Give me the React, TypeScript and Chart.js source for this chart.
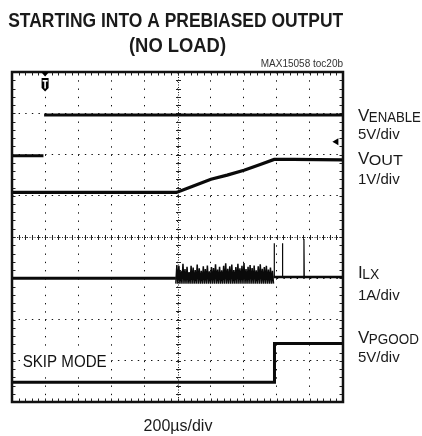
import React, { useEffect, useRef } from "react";
import { Chart, registerables } from "chart.js";

Chart.register(...registerables);

// ---------- text ----------
const titleLines = ["STARTING INTO A PREBIASED OUTPUT", "(NO LOAD)"];
const codeLabel = "MAX15058 toc20b";
const timeBaseLabel = "200µs/div";
const modeLabel = "SKIP MODE";
const channelMain = ["V", "V", "I", "V"];
const channelSub = ["ENABLE", "OUT", "LX", "PGOOD"];
const channelScale = ["5V/div", "1V/div", "1A/div", "5V/div"];

// ---------- screen grid (divisions) ----------
const xDivs = 10;
const yDivs = 8;
const triggerDiv = [1];

// ---------- traces (x in time divisions, y in screen divisions) ----------
const enableX = [0, 0.95, 0.96, 0.97, 10];
const enableY = [5.97, 5.97, null, 6.96, 6.96];

const voutX = [0, 4.97, 5.5, 6.01, 6.5, 7.01, 7.5, 7.92, 8.5, 10];
const voutY = [5.08, 5.08, 5.24, 5.4, 5.5, 5.62, 5.76, 5.88, 5.88, 5.87];

const ilxPreX = [0, 4.95];
const ilxPreY = [3.0, 3.0];
const ilxBurstStart = 4.95;
const ilxBurstEnd = 7.9;
const ilxBurstTops = [
  3.32, 3.3, 3.18, 3.35, 3.22, 3.28, 3.15, 3.3, 3.26, 3.2, 3.33, 3.24,
  3.18, 3.29, 3.22, 3.31, 3.17, 3.27, 3.25, 3.34, 3.21, 3.28, 3.19, 3.3,
  3.36, 3.23, 3.29, 3.33, 3.2, 3.27, 3.35, 3.24, 3.3, 3.37, 3.22, 3.28,
  3.32, 3.25, 3.31, 3.19, 3.29, 3.34, 3.23, 3.27, 3.3, 3.21, 3.26, 3.18,
];
const ilxBurstFloor = 2.87;
const ilxPostX = [7.9, 10];
const ilxPostY = [3.03, 3.03];
const ilxSpikeX = [7.92, 8.17, 8.82];
const ilxSpikeTop = [3.85, 3.85, 3.95];

const pgoodX = [0, 7.93, 7.93, 10];
const pgoodY = [0.48, 0.48, 1.42, 1.42];

const markerX = [9.8];
const markerY = [6.31];

const SANS = "'Liberation Sans', Arial, Helvetica, sans-serif";

const zip = (xs: number[], ys: (number | null)[]) => xs.map((x, i) => ({ x, y: ys[i] }));

function burstPoints() {
  const pts: { x: number; y: number }[] = [];
  const step = (ilxBurstEnd - ilxBurstStart) / ilxBurstTops.length;
  ilxBurstTops.forEach((top, i) => {
    pts.push({ x: ilxBurstStart + i * step, y: ilxBurstFloor });
    pts.push({ x: ilxBurstStart + (i + 0.5) * step, y: top });
  });
  pts.push({ x: ilxBurstEnd, y: ilxBurstFloor });
  return pts;
}

function spikePoints() {
  const pts: { x: number; y: number }[] = [];
  const base = ilxPostY[0];
  ilxSpikeX.forEach((x, i) => {
    pts.push({ x, y: base });
    pts.push({ x, y: ilxSpikeTop[i] });
    pts.push({ x: x + 0.01, y: base });
  });
  return pts;
}

function fillCondensed(ctx: any, text: string, x: number, y: number, width: number, align: string) {
  const w = ctx.measureText(text).width;
  const sx = width / w;
  ctx.save();
  ctx.textAlign = "left";
  let left = x;
  if (align === "center") left = x - width / 2;
  if (align === "right") left = x - width;
  ctx.translate(left, y);
  ctx.scale(sx, 1);
  ctx.fillText(text, 0, 0);
  ctx.restore();
}

const scopePlugin = {
  id: "scopeDecor",
  beforeDatasetsDraw(chart: any) {
    const { ctx, chartArea: a, scales } = chart;
    const xs = scales.x;
    const ys = scales.y;
    const line = (x1: number, y1: number, x2: number, y2: number) => {
      ctx.beginPath();
      ctx.moveTo(x1, y1);
      ctx.lineTo(x2, y2);
      ctx.stroke();
    };
    ctx.save();
    ctx.strokeStyle = "#222";
    ctx.lineWidth = 1;
    const cx = Math.round(xs.getPixelForValue(xDivs / 2)) + 0.5;
    const cy = Math.round(ys.getPixelForValue(yDivs / 2)) + 0.5;
    ctx.setLineDash([1, 1.5]);
    line(a.left, cy, a.right, cy);
    line(cx, a.top, cx, a.bottom);
    ctx.setLineDash([]);
    for (let k = 0; k <= xDivs * 5; k++) {
      const px = Math.round(xs.getPixelForValue(k / 5)) + 0.5;
      line(px, cy - 2.5, px, cy + 2.5);
      line(px, a.top, px, a.top + 3.5);
      line(px, a.bottom - 3.5, px, a.bottom);
    }
    for (let k = 0; k <= yDivs * 5; k++) {
      const py = Math.round(ys.getPixelForValue(k / 5)) + 0.5;
      line(cx - 2.5, py, cx + 2.5, py);
      line(a.left, py, a.left + 3.5, py);
      line(a.right - 3.5, py, a.right, py);
    }
    // SKIP MODE label with white backing
    ctx.font = `16px ${SANS}`;
    ctx.fillStyle = "#fff";
    ctx.fillRect(a.left + 8, a.bottom - 51, 89, 20);
    ctx.fillStyle = "#111";
    ctx.textBaseline = "alphabetic";
    fillCondensed(ctx, modeLabel, a.left + 10.7, a.bottom - 35.3, 84, "left");
    ctx.restore();
  },
  afterDatasetsDraw(chart: any) {
    const { ctx, chartArea: a, scales } = chart;
    ctx.save();
    // frame
    ctx.strokeStyle = "#111";
    ctx.lineWidth = 2.5;
    ctx.strokeRect(a.left, a.top, a.right - a.left, a.bottom - a.top);
    // trigger marker
    const tx = scales.x.getPixelForValue(triggerDiv[0]);
    ctx.fillStyle = "#000";
    ctx.beginPath();
    ctx.moveTo(tx - 4, a.top);
    ctx.lineTo(tx + 4, a.top);
    ctx.lineTo(tx, a.top + 4.5);
    ctx.closePath();
    ctx.fill();
    ctx.beginPath();
    ctx.moveTo(tx - 3.5, a.top + 6);
    ctx.lineTo(tx + 3.5, a.top + 6);
    ctx.lineTo(tx + 3.5, a.top + 16);
    ctx.lineTo(tx, a.top + 19.5);
    ctx.lineTo(tx - 3.5, a.top + 16);
    ctx.closePath();
    ctx.fill();
    ctx.fillStyle = "#fff";
    ctx.fillRect(tx - 2.5, a.top + 8, 5, 1.6);
    ctx.fillRect(tx - 0.8, a.top + 8, 1.6, 8.5);
    ctx.restore();
  },
  afterDraw(chart: any) {
    const { ctx, chartArea: a } = chart;
    ctx.save();
    ctx.fillStyle = "#1a1a1a";
    ctx.textBaseline = "alphabetic";
    // title (condensed bold)
    ctx.font = `bold 21px ${SANS}`;
    fillCondensed(ctx, titleLines[0], 175.7, 26.5, 335, "center");
    fillCondensed(ctx, titleLines[1], 177.5, 52, 97, "center");
    // code label
    ctx.font = `10px ${SANS}`;
    ctx.fillStyle = "#333";
    ctx.textAlign = "right";
    ctx.fillText(codeLabel, a.right, 67);
    // time base
    ctx.fillStyle = "#1a1a1a";
    ctx.textAlign = "center";
    ctx.font = `16px ${SANS}`;
    ctx.fillText(timeBaseLabel, 178, 431);
    // channel labels
    ctx.textAlign = "left";
    const lx = a.right + 15;
    const nameBase = [121, 164, 277.5, 342.5];
    const scaleBase = [139, 183.5, 300, 361.5];
    const subWidth = [52, 34, 17, 50];
    channelMain.forEach((m, i) => {
      ctx.font = `17px ${SANS}`;
      ctx.fillText(m, lx, nameBase[i]);
      const mw = ctx.measureText(m).width;
      ctx.font = `14.5px ${SANS}`;
      fillCondensed(ctx, channelSub[i], lx + mw - 0.5, nameBase[i] + 1, subWidth[i], "left");
      ctx.font = `15px ${SANS}`;
      ctx.fillText(channelScale[i], lx, scaleBase[i]);
    });
    ctx.restore();
  },
};

export default function App() {
  const ref = useRef<HTMLCanvasElement | null>(null);
  useEffect(() => {
    if (!ref.current) return;
    const trace = (data: any[], width: number) => ({
      data,
      borderColor: "#0a0a0a",
      backgroundColor: "#0a0a0a",
      borderWidth: width,
      pointRadius: 0,
      fill: false,
      tension: 0,
      spanGaps: false,
    });
    const chart = new Chart(ref.current, {
      type: "line",
      data: {
        datasets: [
          trace(zip(enableX, enableY), 3),
          trace(zip(voutX, voutY), 3.2),
          trace(zip(ilxPreX, ilxPreY), 3),
          trace(burstPoints(), 1.5),
          trace(zip(ilxPostX, ilxPostY), 2.6),
          trace(spikePoints(), 1.2),
          trace(zip(pgoodX, pgoodY), 3),
          {
            data: zip(markerX, markerY),
            showLine: false,
            pointStyle: "triangle",
            rotation: -90,
            pointRadius: 4,
            backgroundColor: "#000",
            borderColor: "#000",
            borderWidth: 0,
          } as any,
        ],
      },
      options: {
        animation: false,
        responsive: false,
        maintainAspectRatio: false,
        events: [],
        layout: { padding: { left: 12, top: 72, right: 79, bottom: 34 } },
        plugins: {
          legend: { display: false },
          tooltip: { enabled: false },
          title: { display: false },
        },
        scales: {
          x: {
            type: "linear",
            min: 0,
            max: xDivs,
            ticks: { display: false, stepSize: 1 },
            grid: { color: "#111", lineWidth: 1, drawTicks: false },
            border: { display: false, dash: [1.4, 6.85] },
          },
          y: {
            type: "linear",
            min: 0,
            max: yDivs,
            ticks: { display: false, stepSize: 1 },
            grid: { color: "#111", lineWidth: 1, drawTicks: false },
            border: { display: false, dash: [1.4, 5.22] },
          },
        },
      },
      plugins: [scopePlugin],
    });
    return () => chart.destroy();
  }, []);
  return (
    <div style={{ position: "absolute", left: 0, top: 0, width: 422, height: 436, background: "#fff" }}>
      <canvas ref={ref} width={422} height={436} style={{ display: "block", width: 422, height: 436 }} />
    </div>
  );
}
